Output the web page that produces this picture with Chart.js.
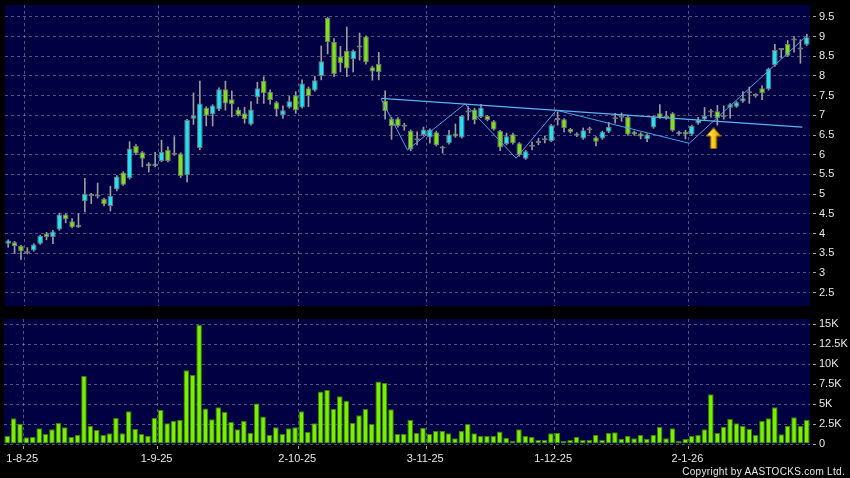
<!DOCTYPE html>
<html><head><meta charset="utf-8">
<script src="https://cdn.jsdelivr.net/npm/chart.js@4"></script>
<style>
html,body{margin:0;padding:0;background:#000;width:850px;height:478px;overflow:hidden}
canvas{position:absolute;left:0}
#c1{top:0}
#c2{top:312px}
#copy{position:absolute;right:5px;top:467px;font:10px "Liberation Sans",Arial,sans-serif;line-height:10px;color:#e8e8e8;letter-spacing:0.3px;white-space:nowrap}
</style></head><body>
<canvas id="c1" width="850" height="312"></canvas>
<canvas id="c2" width="850" height="166"></canvas>
<div id="copy">Copyright by AASTOCKS.com Ltd.</div>
<script>
// ---- data (daily bars, 30-7-25 .. 29-1-26) ----
const tickLabels = ['1-8-25','1-9-25','2-10-25','3-11-25','1-12-25','2-1-26'];
const tickBars   = [2, 23, 45, 65, 85, 106];
const priceTicks = [2.5,3,3.5,4,4.5,5,5.5,6,6.5,7,7.5,8,8.5,9,9.5];
const volTicks   = [0,2500,5000,7500,10000,12500,15000];

const opens = [3.74,3.78,3.68,3.54,3.57,3.74,4.00,3.91,4.10,4.48,4.31,4.16,4.82,5.01,4.94,4.88,4.70,5.12,5.55,5.40,
6.22,6.06,5.78,5.71,5.84,6.12,6.00,6.03,5.48,6.91,6.17,7.19,7.02,7.15,7.66,7.41,7.15,7.05,6.77,7.46,
7.88,7.60,7.33,7.00,7.20,7.51,7.20,7.69,7.63,8.00,9.47,8.86,8.49,8.64,8.42,8.73,9.00,8.22,8.30,7.37,
6.92,6.92,6.71,6.61,6.37,6.50,6.44,6.57,6.20,6.29,6.54,6.44,7.07,7.15,6.96,6.98,6.85,6.60,6.27,6.52,
6.29,5.90,6.20,6.30,6.37,6.35,6.88,6.90,6.65,6.54,6.41,6.62,6.44,6.41,6.58,6.90,6.94,6.96,6.58,6.54,
6.39,6.69,7.05,6.94,7.05,6.52,6.58,6.51,6.79,6.90,7.07,7.10,6.95,7.19,7.22,7.35,7.56,7.49,7.69,7.66,
8.28,8.66,8.81,8.90,8.70,8.79];
const highs = [3.84,3.80,3.70,3.64,3.74,3.96,4.03,4.08,4.52,4.50,4.38,4.50,5.40,5.02,5.28,4.90,5.20,5.47,5.57,6.33,
6.26,6.08,5.80,6.06,6.37,6.20,6.46,6.05,6.90,7.57,7.87,7.22,7.27,7.70,7.87,7.62,7.20,7.20,7.35,7.84,
7.98,7.65,7.35,7.24,7.48,7.60,7.90,7.72,7.99,8.76,9.49,8.95,8.75,9.24,8.66,9.09,9.02,8.25,8.60,7.62,
6.95,6.94,6.80,6.63,6.58,6.70,6.66,6.60,6.22,6.62,6.78,7.00,7.22,7.18,7.28,7.00,6.87,6.62,6.55,6.55,
6.31,6.11,6.32,6.42,6.47,6.77,7.09,6.92,6.67,6.56,6.68,6.70,6.46,6.60,6.82,7.05,7.06,7.00,6.60,6.56,
6.53,6.98,7.27,7.10,7.07,6.60,6.62,6.75,6.95,7.20,7.15,7.25,7.24,7.30,7.35,7.60,7.72,7.55,7.75,8.20,
8.80,8.70,8.90,9.00,8.92,9.06];
const lows = [3.65,3.49,3.34,3.48,3.55,3.72,3.84,3.74,4.08,4.27,4.14,4.15,4.55,4.76,4.90,4.70,4.57,5.08,5.22,5.38,
6.00,5.69,5.56,5.69,5.82,5.82,5.98,5.42,5.31,6.77,6.13,6.73,6.73,7.12,7.13,6.96,6.98,6.80,6.75,7.30,
7.30,7.28,6.98,6.92,7.18,7.05,7.18,7.22,7.61,7.90,8.56,7.98,8.10,7.98,8.10,8.40,8.30,7.89,7.90,6.90,
6.39,6.70,6.62,6.10,6.25,6.48,6.29,6.22,6.04,6.27,6.44,6.42,6.88,6.78,6.94,6.86,6.62,6.10,6.25,6.27,
5.96,5.88,6.12,6.25,6.30,6.33,6.75,6.58,6.55,6.46,6.39,6.55,6.22,6.39,6.56,6.80,6.85,6.49,6.49,6.40,
6.33,6.67,6.92,6.90,6.59,6.50,6.40,6.49,6.77,6.88,6.95,6.75,6.90,6.93,7.20,7.33,7.30,7.46,7.40,7.64,
8.24,8.45,8.49,8.60,8.32,8.77];
const closes = [3.82,3.68,3.55,3.50,3.72,3.94,3.91,4.05,4.48,4.36,4.16,4.22,5.01,4.95,4.94,4.74,4.96,5.45,5.24,6.16,
6.03,5.90,5.71,5.78,6.07,5.84,6.00,5.46,6.88,7.00,7.30,6.99,7.25,7.66,7.30,7.28,7.00,6.90,7.15,7.69,
7.56,7.39,7.15,7.13,7.36,7.13,7.81,7.49,7.89,8.37,8.86,8.05,8.32,8.19,8.64,8.72,8.35,8.11,8.09,7.10,
6.73,6.73,6.71,6.13,6.37,6.64,6.64,6.24,6.16,6.51,6.46,6.98,7.07,6.88,7.20,6.88,6.64,6.18,6.47,6.29,
5.99,6.09,6.20,6.30,6.37,6.75,6.88,6.68,6.57,6.48,6.62,6.62,6.33,6.58,6.71,6.90,6.94,6.51,6.51,6.46,
6.51,6.96,6.94,6.94,6.61,6.58,6.51,6.73,6.88,6.99,7.07,6.93,6.95,7.28,7.33,7.43,7.58,7.52,7.56,8.18,
8.66,8.66,8.51,8.90,8.67,8.98];
const volumes = [1040,3220,2550,840,880,1960,1250,1840,2630,2090,880,1130,8520,2260,1750,1130,1340,3260,1340,4090,
1880,1250,1040,3260,4300,2590,2920,3010,9230,8650,14920,4430,3090,4600,4050,2760,1840,2880,1380,5060,
3430,1130,2090,1250,1960,2090,4090,1500,2590,6560,6770,4390,5970,5390,2630,3590,4390,2510,7810,7650,
4350,1250,1250,3050,1380,2050,1250,1630,1630,1340,710,1630,2510,1340,1000,1000,1000,1550,790,420,
1840,1000,920,500,500,1340,1420,380,500,920,500,500,1130,500,1420,1460,670,1000,710,1130,
670,1130,2130,710,1960,420,630,1040,1130,1840,6230,1380,2170,3130,2590,2260,1880,1130,2880,3220,
4600,1210,2260,3340,2260,3050];

// pattern lines (bar index, price)
const zigzagX = [58.4, 62.5, 71.5, 79.5, 85.8, 106.6, 124.8];
const zigzagY = [7.41, 6.12, 7.29, 5.91, 7.13, 6.29, 8.99];
const resistX = [58.4, 124.3];
const resistY = [7.43, 6.70];
const arrowX = 110.4, arrowY = 6.42;

// ---- styling ----
const FONT = '"Liberation Sans", Arial, sans-serif';
Chart.defaults.font.family = FONT;
Chart.defaults.font.size = 11;
Chart.defaults.color = '#e6e6e6';
const GRID = 'rgba(150,150,190,0.55)';
const TICKC = '#a0a0a0';
const UP = '#22e2f2', DOWN = '#80e020', FLAT = '#8c8c8c';

const plotBg = { id:'plotBg', beforeDraw(chart){ const {ctx, chartArea:a} = chart; ctx.save(); ctx.fillStyle = '#000042'; ctx.fillRect(a.left, a.top, a.right-a.left, a.bottom-a.top); ctx.restore(); } };

const labelMap = {};
tickBars.forEach((b,i)=>{ labelMap[(b+0.5).toFixed(1)] = tickLabels[i]; });

function xScale(showLabels, h){
  return { type:'linear', min:-0.5, max:125.5, offset:false,
    afterBuildTicks: s => { s.ticks = tickBars.map(b=>({value:b+0.5})); },
    afterFit: s => { s.height = h; s.paddingLeft = 0; s.paddingRight = 0; },
    ticks: { display: showLabels, padding:3, maxRotation:0, autoSkip:false, labelOffset:-1,
      callback: v => labelMap[Number(v).toFixed(1)] || '' },
    grid: { color:GRID, offset:false, drawTicks: showLabels, tickLength:5, tickColor:TICKC, tickBorderDash:[0,2,3,50] },
    border: { display:false, dash:[3,3] } };
}
function yScale(min, max, ticks, fmt){
  return { position:'right', min, max,
    afterBuildTicks: s => { s.ticks = ticks.map(v=>({value:v})); },
    afterFit: s => { s.width = 40; s.paddingTop = 0; s.paddingBottom = 0; },
    ticks: { padding:3, callback: fmt },
    grid: { color:GRID, drawTicks:true, tickLength:6, tickColor:TICKC, tickBorderDash:[0,3,3,50] },
    border: { display:false, dash:[3,3] } };
}

// arrow marker image
const arrowImg = document.createElement('canvas');
arrowImg.width = 16; arrowImg.height = 22;
(function(){
  const c = arrowImg.getContext('2d');
  const g = c.createLinearGradient(0,0,16,0);
  g.addColorStop(0,'#fff4a8'); g.addColorStop(0.45,'#ffd21e'); g.addColorStop(1,'#e08c00');
  c.beginPath();
  c.moveTo(8,0.5); c.lineTo(15.5,9); c.lineTo(11,9); c.lineTo(11,21.5); c.lineTo(5,21.5); c.lineTo(5,9); c.lineTo(0.5,9); c.closePath();
  c.fillStyle = g; c.fill();
  c.strokeStyle = '#8a5a00'; c.lineWidth = 1; c.stroke();
})();

const bodies = opens.map((o,i)=>({x:i, y:[o, closes[i]]}));
const bodyColors = opens.map((o,i)=> closes[i] > o ? UP : (closes[i] < o ? DOWN : FLAT));
const wicks = lows.map((l,i)=>({x:i, y:[l, highs[i]]}));
const volData = volumes.map((v,i)=>({x:i, y:v}));

new Chart(document.getElementById('c1'), {
  type:'bar',
  data:{ datasets:[
    { type:'line', data:[{x:arrowX, y:arrowY}], showLine:false, pointStyle:arrowImg, order:-1 },
    { type:'line', data: resistX.map((x,i)=>({x, y:resistY[i]})), borderColor:'#5cb4ee', borderWidth:1.4, pointRadius:0, order:0 },
    { type:'line', data: zigzagX.map((x,i)=>({x, y:zigzagY[i]})), borderColor:'#4aa2e4', borderWidth:1, pointRadius:0, order:0 },
    { data: bodies, backgroundColor: bodyColors, borderColor:'#767676', borderWidth:1, borderSkipped:false,
      grouped:false, barPercentage:0.88, categoryPercentage:1, minBarLength:2, order:1 },
    { data: wicks, backgroundColor:'#9c9c9c', barThickness:1, grouped:false, order:2 }
  ]},
  options:{
    animation:false, responsive:false, maintainAspectRatio:false, events:[],
    layout:{ padding:{ left:4, top:5, right:0, bottom:6 } },
    plugins:{ legend:{display:false}, tooltip:{enabled:false} },
    scales:{
      x: xScale(false, 0),
      y: yScale(2.16, 9.80, priceTicks, v => String(v))
    }
  },
  plugins:[plotBg]
});

new Chart(document.getElementById('c2'), {
  type:'bar',
  data:{ datasets:[
    { data: volData, backgroundColor:'#78f000', borderColor:'#3a8000', borderWidth:1, borderSkipped:false,
      grouped:false, barPercentage:0.88, categoryPercentage:1 }
  ]},
  options:{
    animation:false, responsive:false, maintainAspectRatio:false, events:[],
    layout:{ padding:{ left:4, top:7, right:0, bottom:0 } },
    plugins:{ legend:{display:false}, tooltip:{enabled:false} },
    scales:{
      x: xScale(true, 34),
      y: yScale(0, 15650, volTicks, v => v === 0 ? '0' : (v/1000) + 'K')
    }
  },
  plugins:[plotBg]
});
</script>
</body></html>
